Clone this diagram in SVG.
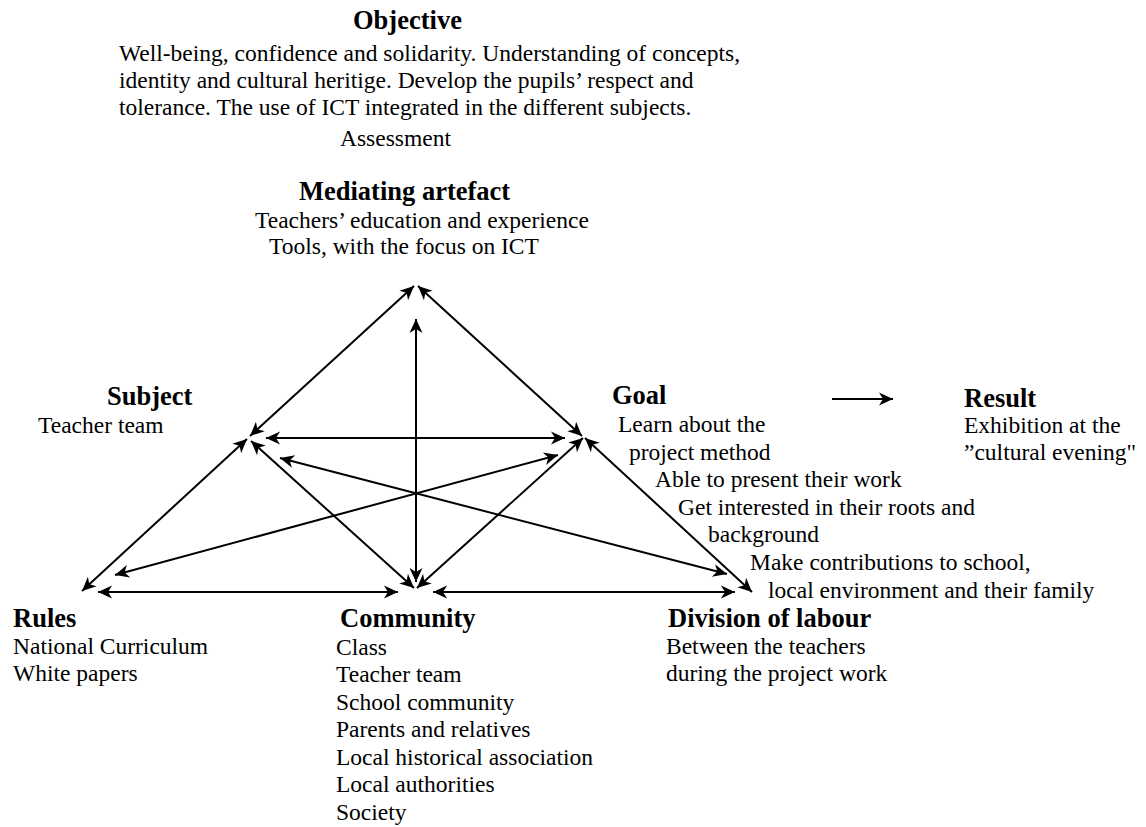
<svg xmlns="http://www.w3.org/2000/svg" width="1146" height="827" viewBox="0 0 1146 827">
  <style>
    text { font-family: "Liberation Serif", "Times New Roman", serif; fill: #000; }
    .h { font-size: 26.5px; font-weight: bold; }
    .t { font-size: 23.5px; }
    .c { stroke: #000; stroke-width: 2; fill: none; }
    .d { marker-start: url(#barb); marker-end: url(#barb); }
    .s { marker-end: url(#barb); }
  </style>
  <defs>
    <!-- notched arrowhead shared by every connector -->
    <marker id="barb" viewBox="-16 -8 17 16" refX="0" refY="0" markerWidth="17" markerHeight="16" markerUnits="userSpaceOnUse" orient="auto-start-reverse">
      <path d="M0,0 L-14,-6.5 L-10,0 L-14,6.5 Z" fill="#000"/>
    </marker>
  </defs>

  <rect width="1146" height="827" fill="#fff"/>

  <!-- connectors of the activity triangle -->
  <g id="connectors">
    <line class="c d" x1="414" y1="286" x2="250" y2="436"/>
    <line class="c d" x1="418" y1="286" x2="582" y2="436"/>
    <line class="c d" x1="416" y1="319" x2="416" y2="582"/>
    <line class="c d" x1="266" y1="438" x2="565" y2="438"/>
    <line class="c d" x1="280" y1="458" x2="727" y2="574"/>
    <line class="c d" x1="115" y1="575" x2="558" y2="455"/>
    <line class="c d" x1="82" y1="591" x2="247" y2="439"/>
    <line class="c d" x1="251" y1="441" x2="414" y2="588"/>
    <line class="c d" x1="583" y1="438" x2="417" y2="588"/>
    <line class="c d" x1="585" y1="438" x2="752" y2="592"/>
    <line class="c d" x1="98" y1="592" x2="398" y2="592"/>
    <line class="c d" x1="433" y1="592" x2="735" y2="592"/>
    <line class="c s" x1="832" y1="399" x2="893" y2="399"/>
  </g>

  <g id="objective">
    <text class="h" x="353" y="29">Objective</text>
    <text class="t" x="119" y="61">Well-being, confidence and solidarity. Understanding of concepts,</text>
    <text class="t" x="119" y="88">identity and cultural heritige. Develop the pupils’ respect and</text>
    <text class="t" x="119" y="115">tolerance. The use of ICT integrated in the different subjects.</text>
    <text class="t" x="340" y="146">Assessment</text>
  </g>

  <g id="mediating-artefact">
    <text class="h" x="299" y="200">Mediating artefact</text>
    <text class="t" x="255" y="228">Teachers’ education and experience</text>
    <text class="t" x="269" y="254">Tools, with the focus on ICT</text>
  </g>

  <g id="subject">
    <text class="h" x="107" y="405">Subject</text>
    <text class="t" x="38" y="433">Teacher team</text>
  </g>

  <g id="goal">
    <text class="h" x="612" y="404">Goal</text>
    <text class="t" x="618" y="432">Learn about the</text>
    <text class="t" x="629" y="460">project method</text>
    <text class="t" x="655" y="487">Able to present their work</text>
    <text class="t" x="678" y="515">Get interested in their roots and</text>
    <text class="t" x="708" y="542">background</text>
    <text class="t" x="750" y="570">Make contributions to school,</text>
    <text class="t" x="768" y="598">local environment and their family</text>
  </g>

  <g id="result">
    <text class="h" x="964" y="407">Result</text>
    <text class="t" x="964" y="433">Exhibition at the</text>
    <text class="t" x="964" y="460">”cultural evening"</text>
  </g>

  <g id="rules">
    <text class="h" x="13" y="627">Rules</text>
    <text class="t" x="13" y="654">National Curriculum</text>
    <text class="t" x="13" y="681">White papers</text>
  </g>

  <g id="community">
    <text class="h" x="340" y="627">Community</text>
    <text class="t" x="336" y="655">Class</text>
    <text class="t" x="336" y="682">Teacher team</text>
    <text class="t" x="336" y="710">School community</text>
    <text class="t" x="336" y="737">Parents and relatives</text>
    <text class="t" x="336" y="765">Local historical association</text>
    <text class="t" x="336" y="792">Local authorities</text>
    <text class="t" x="336" y="820">Society</text>
  </g>

  <g id="division-of-labour">
    <text class="h" x="668" y="627">Division of labour</text>
    <text class="t" x="666" y="654">Between the teachers</text>
    <text class="t" x="666" y="681">during the project work</text>
  </g>
</svg>
